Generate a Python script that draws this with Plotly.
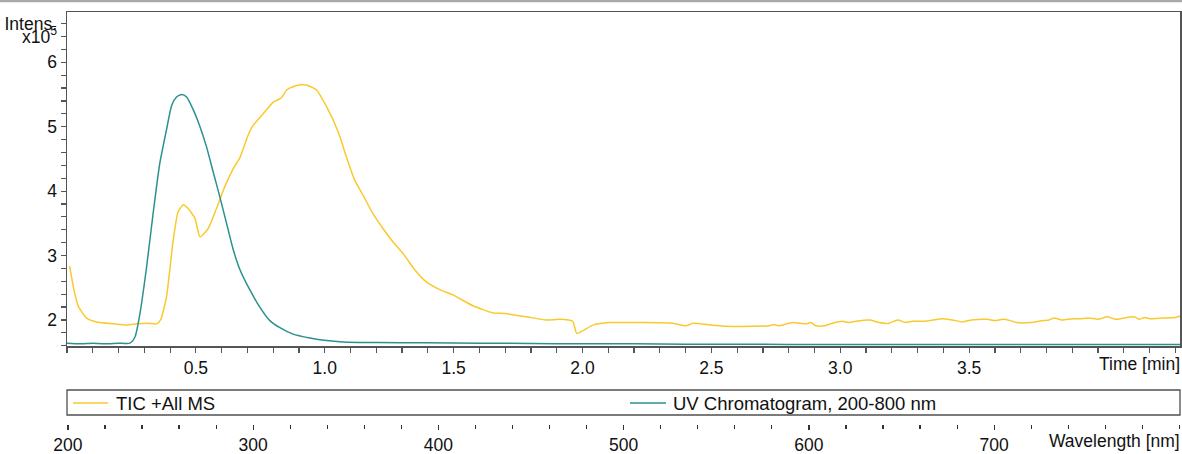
import plotly.graph_objects as go

# ---------------- data ----------------
tic_time = [0.01, 0.027, 0.044, 0.076, 0.115, 0.18, 0.23, 0.27, 0.309, 0.348,
            0.364, 0.386, 0.412, 0.431, 0.451, 0.47, 0.496, 0.516, 0.548, 0.58,
            0.612, 0.645, 0.671, 0.703, 0.722, 0.761, 0.80, 0.832, 0.852, 0.877,
            0.91, 0.935, 0.968, 1.007, 1.052, 1.084, 1.116, 1.148, 1.187, 1.226,
            1.265, 1.304, 1.349, 1.394, 1.446, 1.497, 1.575, 1.652, 1.70, 1.782,
            1.859, 1.91, 1.962, 1.978, 2.04, 2.105, 2.22, 2.35, 2.40, 2.43,
            2.505, 2.596, 2.725, 2.74, 2.76, 2.815, 2.867, 2.886, 2.905, 2.938,
            2.97, 3.009, 3.035, 3.06, 3.118, 3.15, 3.19, 3.222, 3.254, 3.28,
            3.332, 3.396, 3.435, 3.474, 3.51, 3.571, 3.60, 3.63, 3.66, 3.683,
            3.741, 3.786, 3.81, 3.83, 3.86, 3.9, 3.93, 3.965, 4.0, 4.036,
            4.068, 4.10, 4.14, 4.16, 4.18, 4.20, 4.25, 4.30, 4.318]
tic_intensity = [2.84, 2.47, 2.21, 2.03, 1.97, 1.94, 1.92, 1.94, 1.95, 1.94,
                 2.01, 2.36, 3.24, 3.68, 3.79, 3.73, 3.58, 3.29, 3.42, 3.73,
                 4.07, 4.35, 4.52, 4.87, 5.02, 5.20, 5.38, 5.45, 5.57, 5.62,
                 5.65, 5.64, 5.57, 5.31, 4.92, 4.53, 4.17, 3.94, 3.65, 3.42,
                 3.21, 3.03, 2.78, 2.59, 2.47, 2.39, 2.22, 2.11, 2.10, 2.05,
                 2.00, 2.01, 1.98, 1.79, 1.92, 1.96, 1.96, 1.95, 1.91, 1.95,
                 1.92, 1.90, 1.91, 1.93, 1.91, 1.96, 1.94, 1.96, 1.91, 1.91,
                 1.95, 1.98, 1.96, 1.98, 2.00, 1.96, 1.95, 2.00, 1.96, 1.98,
                 1.98, 2.02, 2.00, 1.97, 2.00, 2.01, 1.99, 2.01, 1.99, 1.96,
                 1.96, 1.99, 2.00, 2.03, 2.00, 2.02, 2.02, 2.03, 2.01, 2.05,
                 2.01, 2.03, 2.05, 2.01, 2.04, 2.02, 2.03, 2.04, 2.06]

uv_time = [0.0, 0.05, 0.1, 0.15, 0.2, 0.244, 0.264, 0.283, 0.309, 0.334,
           0.36, 0.386, 0.406, 0.425, 0.445, 0.464, 0.49, 0.516, 0.541, 0.567,
           0.593, 0.619, 0.645, 0.671, 0.709, 0.748, 0.787, 0.826, 0.877, 0.942,
           1.007, 1.071, 1.2, 1.394, 1.6, 1.8, 2.0, 2.2, 2.4, 2.6,
           2.8, 3.0, 3.2, 3.4, 3.6, 3.8, 4.0, 4.2, 4.318]
uv_intensity = [1.64, 1.63, 1.64, 1.63, 1.64, 1.64, 1.74, 2.10, 2.83, 3.65,
                4.43, 4.95, 5.33, 5.46, 5.50, 5.46, 5.26, 5.00, 4.69, 4.30,
                3.91, 3.50, 3.09, 2.78, 2.47, 2.20, 1.99, 1.88, 1.78, 1.72,
                1.68, 1.66, 1.65, 1.645, 1.64, 1.635, 1.63, 1.63, 1.625, 1.625,
                1.62, 1.62, 1.62, 1.62, 1.62, 1.62, 1.62, 1.62, 1.62]

series_names = ["TIC +All MS", "UV Chromatogram, 200-800 nm"]
series_colors = ["#F9C92E", "#2A918E"]

time_tickvals = [0.5, 1.0, 1.5, 2.0, 2.5, 3.0, 3.5]
time_ticktext = ["0.5", "1.0", "1.5", "2.0", "2.5", "3.0", "3.5"]
int_tickvals = [2, 3, 4, 5, 6, 6.4, 6.6]
int_ticktext = ["2", "3", "4", "5", "6", "x10<sup>5</sup>", "Intens."]
wl_tickvals = [200, 300, 400, 500, 600, 700]
wl_ticktext = ["200", "300", "400", "500", "600", "700"]
wl_range = [199.5, 800.3]

# ---------------- figure ----------------
W, H = 1182, 454
ML, MR, MT, MB = 67, 2, 12, 0
PH = H - MT - MB
PW = W - ML - MR


def py(Y):
    return (H - MB - Y) / PH


def px(X):
    return (X - ML) / PW


FONT = "Liberation Sans, Arial, sans-serif"
FS = 17.5
FS_LEG = 18.5
AXC = "#555555"

fig = go.Figure()
fig.add_trace(go.Scatter(x=tic_time, y=tic_intensity, mode="lines",
                         name=series_names[0],
                         line=dict(color=series_colors[0], width=1.5,
                                   shape="spline", smoothing=0.5),
                         showlegend=False))
fig.add_trace(go.Scatter(x=uv_time, y=uv_intensity, mode="lines",
                         name=series_names[1],
                         line=dict(color=series_colors[1], width=1.5,
                                   shape="spline", smoothing=0.6),
                         showlegend=False))
# invisible trace establishing the wavelength axis
fig.add_trace(go.Scatter(x=wl_range, y=[0, 0], xaxis="x2", yaxis="y2",
                         mode="lines", line=dict(width=0), opacity=0,
                         hoverinfo="skip", showlegend=False))

fig.update_layout(
    template="none",
    width=W, height=H,
    margin=dict(l=ML, r=MR, t=MT, b=MB, pad=0, autoexpand=False),
    paper_bgcolor="white", plot_bgcolor="white",
    font=dict(family=FONT, size=FS, color="#111111"),
    showlegend=False,
    xaxis=dict(domain=[0, 1], anchor="y", range=[0, 4.318], automargin=False,
               showgrid=False, zeroline=False,
               showline=True, linecolor=AXC, linewidth=1.5, mirror=True,
               ticks="outside", ticklen=5, tickcolor=AXC, tickwidth=1.2,
               tickvals=time_tickvals, ticktext=time_ticktext,
               tickfont=dict(size=FS),
               minor=dict(dtick=0.1, tick0=0, ticks="outside", ticklen=5,
                          tickcolor=AXC, tickwidth=1.2, showgrid=False)),
    yaxis=dict(domain=[py(346), 1], anchor="x", range=[1.596, 6.78], automargin=False,
               showgrid=False, zeroline=False,
               showline=True, linecolor=AXC, linewidth=1.5, mirror=True,
               ticks="outside", ticklen=5, tickcolor=AXC, tickwidth=1.2,
               tickvals=int_tickvals, ticktext=int_ticktext,
               tickfont=dict(size=FS),
               minor=dict(dtick=0.2, tick0=0, ticks="outside", ticklen=5,
                          tickcolor=AXC, tickwidth=1.2, showgrid=False)),
    xaxis2=dict(domain=[0, 1], anchor="y2", range=wl_range, automargin=False,
                showgrid=False, zeroline=False, showline=False,
                ticks="outside", ticklen=5, tickcolor="#333333", tickwidth=1.2,
                tickvals=wl_tickvals, ticktext=wl_ticktext,
                tickfont=dict(size=FS),
                minor=dict(dtick=20, tick0=200, ticks="outside", ticklen=4,
                           tickcolor="#333333", tickwidth=1.2, showgrid=False)),
    yaxis2=dict(domain=[py(424), py(418)], anchor="x2", visible=False,
                range=[0, 1], automargin=False, showgrid=False),
)

shapes = [
    # top window line
    dict(type="line", xref="paper", yref="paper", x0=px(0), x1=px(W),
         y0=py(1), y1=py(1), line=dict(color="#A8A8A8", width=2.5)),
    # legend box
    dict(type="rect", xref="paper", yref="paper", x0=0, x1=1,
         y0=py(415), y1=py(390), line=dict(color="#505050", width=1.3)),
    # legend samples
    dict(type="line", xref="paper", yref="paper", x0=px(73), x1=px(108),
         y0=py(403), y1=py(403), line=dict(color=series_colors[0], width=1.5)),
    dict(type="line", xref="paper", yref="paper", x0=px(630), x1=px(666),
         y0=py(403), y1=py(403), line=dict(color=series_colors[1], width=1.5)),
]
fig.update_layout(shapes=shapes)

annotations = [
    dict(text=series_names[0], xref="paper", yref="paper", x=px(114), y=py(403),
         xanchor="left", yanchor="middle", showarrow=False, font=dict(size=FS_LEG)),
    dict(text=series_names[1], xref="paper", yref="paper", x=px(671), y=py(403),
         xanchor="left", yanchor="middle", showarrow=False, font=dict(size=FS_LEG)),
    dict(text="Time [min]", xref="paper", yref="paper", x=px(1182), y=py(364),
         xanchor="right", yanchor="middle", showarrow=False, font=dict(size=FS)),
    dict(text="Wavelength [nm]", xref="paper", yref="paper", x=px(1182), y=py(441),
         xanchor="right", yanchor="middle", showarrow=False, font=dict(size=FS)),
]
fig.update_layout(annotations=annotations)

fig.write_html("out.html",
               config=dict(displayModeBar=False, staticPlot=True),
               post_script="document.body.style.margin='0';"
                           "document.body.style.overflow='hidden';")
